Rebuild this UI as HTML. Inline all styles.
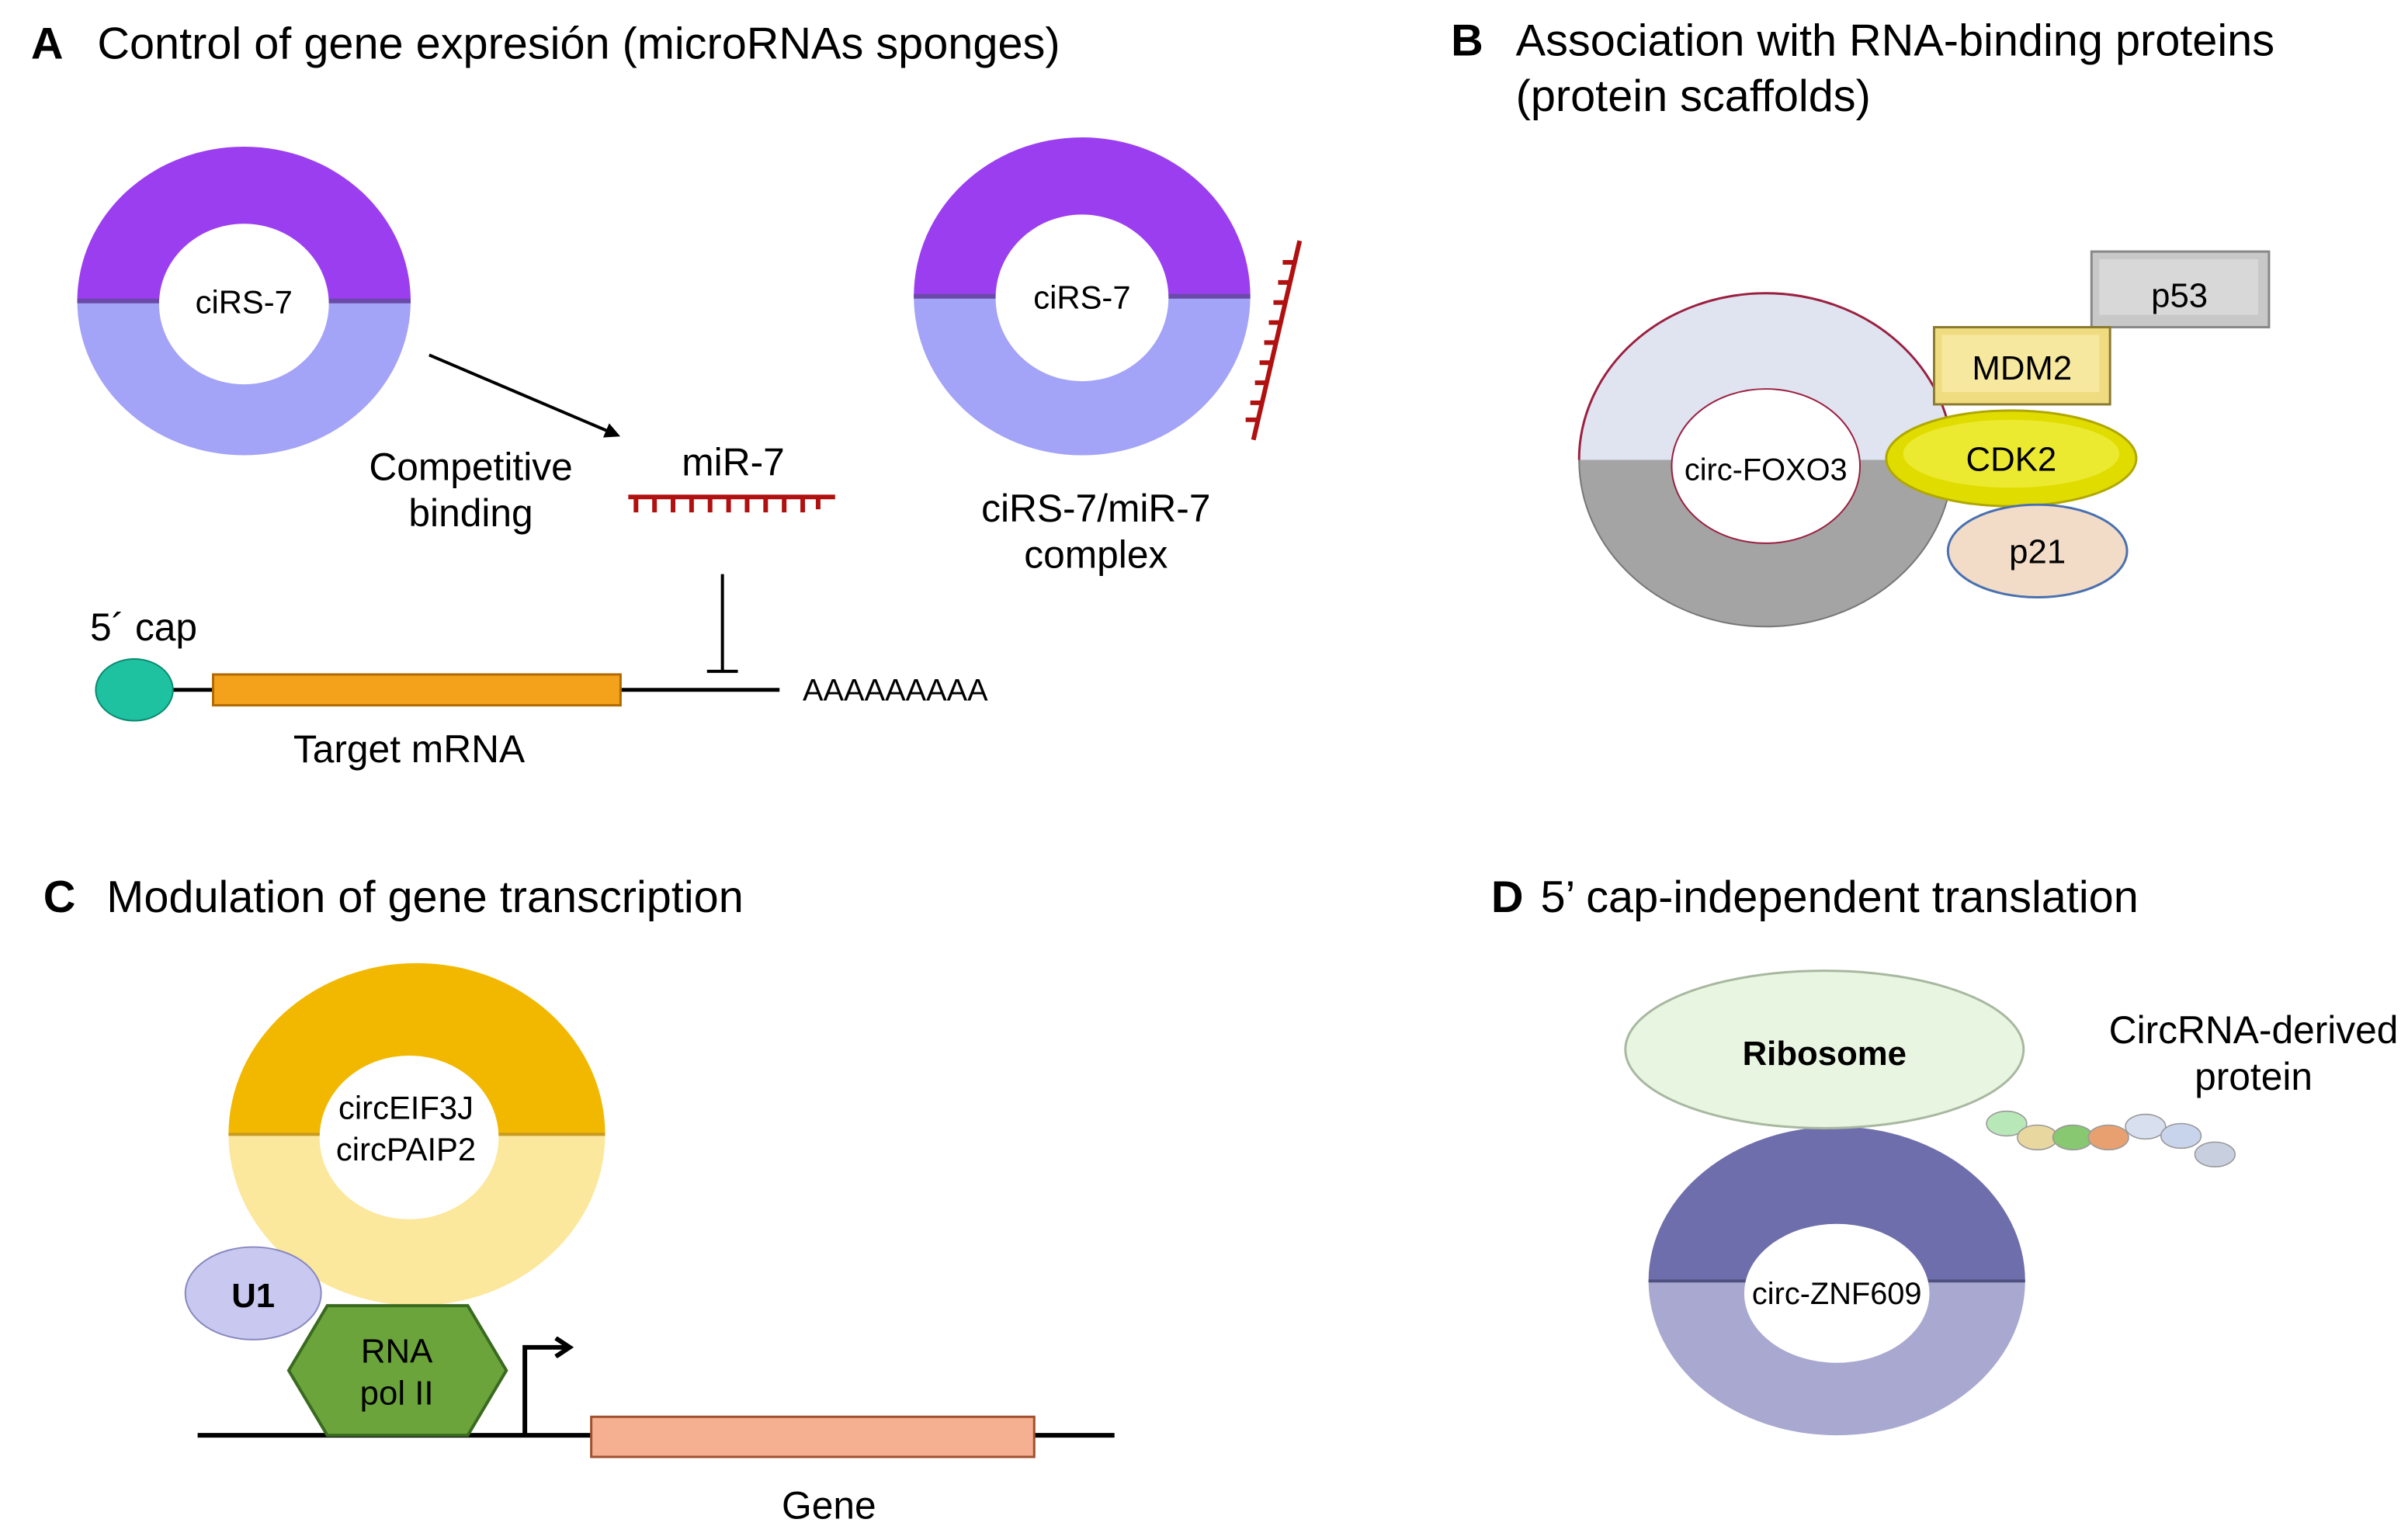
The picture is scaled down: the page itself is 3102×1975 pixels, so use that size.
<!DOCTYPE html>
<html><head><meta charset="utf-8"><style>
html,body{margin:0;padding:0;background:#fff}
svg{display:block}
text{font-family:"Liberation Sans",sans-serif;fill:#000}
</style></head><body>
<svg width="3102" height="1975" viewBox="0 0 1560 993.3" xmlns="http://www.w3.org/2000/svg">
<defs>
<marker id="ah" markerWidth="10" markerHeight="10" refX="8" refY="5" orient="auto" markerUnits="userSpaceOnUse"><path d="M0,0 L10,5 L0,10 z" fill="#000"/></marker>
<marker id="ah2" markerWidth="14" markerHeight="14" refX="10" refY="7" orient="auto" markerUnits="userSpaceOnUse"><path d="M2,1 L11,7 L2,13" fill="none" stroke="#000" stroke-width="3"/></marker>
</defs>

<!-- A -->
<text x="20" y="38" font-size="29" font-weight="bold">A</text>
<text x="63" y="38" font-size="29">Control of gene expresión (microRNAs sponges)</text>
<path d="M50,195 A108,100 0 0 1 266,195 Z" fill="#9b3ef0"/>
<path d="M50,195 A108,100 0 0 0 266,195 Z" fill="#a3a3f7"/>
<line x1="50" y1="195" x2="266" y2="195" stroke="#6a4aa8" stroke-width="3"/>
<ellipse cx="158" cy="197" rx="55" ry="52" fill="#fff"/>
<text x="158" y="203" font-size="21" text-anchor="middle">ciRS-7</text>

<path d="M592,192 A109,103 0 0 1 810,192 Z" fill="#9b3ef0"/>
<path d="M592,192 A109,103 0 0 0 810,192 Z" fill="#a3a3f7"/>
<line x1="592" y1="192" x2="810" y2="192" stroke="#6a4aa8" stroke-width="3"/>
<ellipse cx="701" cy="193" rx="56" ry="54" fill="#fff"/>
<text x="701" y="200" font-size="21" text-anchor="middle">ciRS-7</text>
<g stroke="#b01010" stroke-width="3" fill="none">
<line x1="842" y1="156" x2="812" y2="285"/>
<path d="M838,170 h-7 M835,183 h-7 M832,196 h-7 M829,209 h-7 M826,222 h-7 M823,235 h-7 M820,248 h-7 M817,261 h-7 M814,272 h-7"/>
</g>
<text x="710" y="338" font-size="25" text-anchor="middle">ciRS-7/miR-7</text>
<text x="710" y="368" font-size="25" text-anchor="middle">complex</text>
<line x1="278" y1="230" x2="400" y2="282" stroke="#000" stroke-width="2" marker-end="url(#ah)"/>
<text x="305" y="311" font-size="25" text-anchor="middle">Competitive</text>
<text x="305" y="341" font-size="25" text-anchor="middle">binding</text>
<text x="475" y="308" font-size="25" text-anchor="middle">miR-7</text>
<g stroke="#b01010" stroke-width="3">
<line x1="407" y1="322" x2="541" y2="322"/>
<path d="M412,322 v10 M424,322 v10 M436,322 v10 M448,322 v10 M460,322 v10 M472,322 v10 M484,322 v10 M496,322 v10 M508,322 v10 M520,322 v10 M530,322 v8"/>
</g>
<line x1="468" y1="372" x2="468" y2="435" stroke="#000" stroke-width="2"/>
<line x1="458" y1="435" x2="478" y2="435" stroke="#000" stroke-width="2"/>
<line x1="85" y1="447" x2="505" y2="447" stroke="#000" stroke-width="2.5"/>
<rect x="138" y="437" width="264" height="20" fill="#f4a21c" stroke="#b06a00" stroke-width="1.5"/>
<ellipse cx="87" cy="447" rx="25" ry="20" fill="#1ec2a0" stroke="#0a8a70" stroke-width="1"/>
<text x="93" y="415" font-size="25" text-anchor="middle">5´ cap</text>
<text x="265" y="494" font-size="25" text-anchor="middle">Target mRNA</text>
<text x="520" y="454" font-size="20">AAAAAAAAA</text>

<!-- B -->
<text x="940" y="36" font-size="29" font-weight="bold">B</text>
<text x="982" y="36" font-size="29">Association with RNA-binding proteins</text>
<text x="982" y="72" font-size="29">(protein scaffolds)</text>
<path d="M1023,298 A121,108 0 0 1 1265,298 Z" fill="#dfe4f0"/>
<path d="M1023,298 A121,108 0 0 0 1265,298 Z" fill="#a4a4a4"/>
<ellipse cx="1144" cy="298" rx="121" ry="108" fill="none" stroke="#777" stroke-width="1"/>
<path d="M1023,298 A121,108 0 0 1 1265,298" fill="none" stroke="#9a2040" stroke-width="1.5"/>
<ellipse cx="1144" cy="302" rx="61" ry="50" fill="#fff" stroke="#9a2040" stroke-width="1"/>
<text x="1144" y="311" font-size="20" text-anchor="middle">circ-FOXO3</text>
<rect x="1355" y="163" width="115" height="49" fill="#c8c8c8" stroke="#888" stroke-width="1.5"/>
<rect x="1360" y="168" width="103" height="36" fill="#d8d8d8"/>
<text x="1412" y="199" font-size="22" text-anchor="middle">p53</text>
<rect x="1253" y="212" width="114" height="50" fill="#f0dc80" stroke="#8a7a30" stroke-width="1.5"/>
<rect x="1258" y="217" width="102" height="37" fill="#f7e8a0"/>
<text x="1310" y="246" font-size="22" text-anchor="middle">MDM2</text>
<ellipse cx="1303" cy="297" rx="81" ry="31" fill="#e0dc00" stroke="#b0a800" stroke-width="1.5"/>
<ellipse cx="1303" cy="294" rx="70" ry="22" fill="#ecea30"/>
<text x="1303" y="305" font-size="22" text-anchor="middle">CDK2</text>
<ellipse cx="1320" cy="357" rx="58" ry="30" fill="#f2dcc8" stroke="#4a70b0" stroke-width="1.5"/>
<text x="1320" y="365" font-size="22" text-anchor="middle">p21</text>

<!-- C -->
<text x="28" y="591" font-size="29" font-weight="bold">C</text>
<text x="69" y="591" font-size="29">Modulation of gene transcription</text>
<path d="M148,735 A122,111 0 0 1 392,735 Z" fill="#f2b800"/>
<path d="M148,735 A122,111 0 0 0 392,735 Z" fill="#fbe89c"/>
<line x1="148" y1="735" x2="392" y2="735" stroke="#c89a20" stroke-width="2"/>
<ellipse cx="265" cy="737" rx="58" ry="53" fill="#fff"/>
<text x="263" y="725" font-size="21" text-anchor="middle">circEIF3J</text>
<text x="263" y="752" font-size="21" text-anchor="middle">circPAIP2</text>
<line x1="128" y1="930" x2="722" y2="930" stroke="#000" stroke-width="3"/>
<ellipse cx="164" cy="838" rx="44" ry="30" fill="#c8c8f0" stroke="#8888c0" stroke-width="1"/>
<text x="164" y="847" font-size="22" font-weight="bold" text-anchor="middle">U1</text>
<polygon points="187,888 212,846 303,846 328,888 303,930 212,930" fill="#6aa43a" stroke="#3a6a20" stroke-width="2"/>
<text x="257" y="883" font-size="22" text-anchor="middle">RNA</text>
<text x="257" y="910" font-size="22" text-anchor="middle">pol II</text>
<path d="M340,930 V873 H368" fill="none" stroke="#000" stroke-width="3" marker-end="url(#ah2)"/>
<rect x="383" y="918" width="287" height="26" fill="#f4b090" stroke="#a05030" stroke-width="1.5"/>
<text x="537" y="984" font-size="25" text-anchor="middle">Gene</text>

<!-- D -->
<text x="966" y="591" font-size="29" font-weight="bold">D</text>
<text x="998" y="591" font-size="29">5’ cap-independent translation</text>
<path d="M1068,830 A122,100 0 0 1 1312,830 Z" fill="#6e6eac"/>
<path d="M1068,830 A122,100 0 0 0 1312,830 Z" fill="#a8a8d0"/>
<line x1="1068" y1="830" x2="1312" y2="830" stroke="#505080" stroke-width="2"/>
<ellipse cx="1190" cy="838" rx="60" ry="45" fill="#fff"/>
<text x="1190" y="845" font-size="20" text-anchor="middle">circ-ZNF609</text>
<ellipse cx="1182" cy="680" rx="129" ry="51" fill="#e8f5e0" stroke="#a8b8a0" stroke-width="1.5"/>
<text x="1182" y="690" font-size="22" font-weight="bold" text-anchor="middle">Ribosome</text>
<g stroke="#999" stroke-width="0.8">
<ellipse cx="1300" cy="728" rx="13" ry="8" fill="#b8e8b8"/>
<ellipse cx="1320" cy="737" rx="13" ry="8" fill="#e8d8a0"/>
<ellipse cx="1343" cy="737" rx="13" ry="8" fill="#88c870"/>
<ellipse cx="1366" cy="737" rx="13" ry="8" fill="#e8a070"/>
<ellipse cx="1390" cy="730" rx="13" ry="8" fill="#d8e0f0"/>
<ellipse cx="1413" cy="736" rx="13" ry="8" fill="#c8d4ec"/>
<ellipse cx="1435" cy="748" rx="13" ry="8" fill="#c8d0e0"/>
</g>
<text x="1460" y="676" font-size="25" text-anchor="middle">CircRNA-derived</text>
<text x="1460" y="706" font-size="25" text-anchor="middle">protein</text>
</svg>
</body></html>
